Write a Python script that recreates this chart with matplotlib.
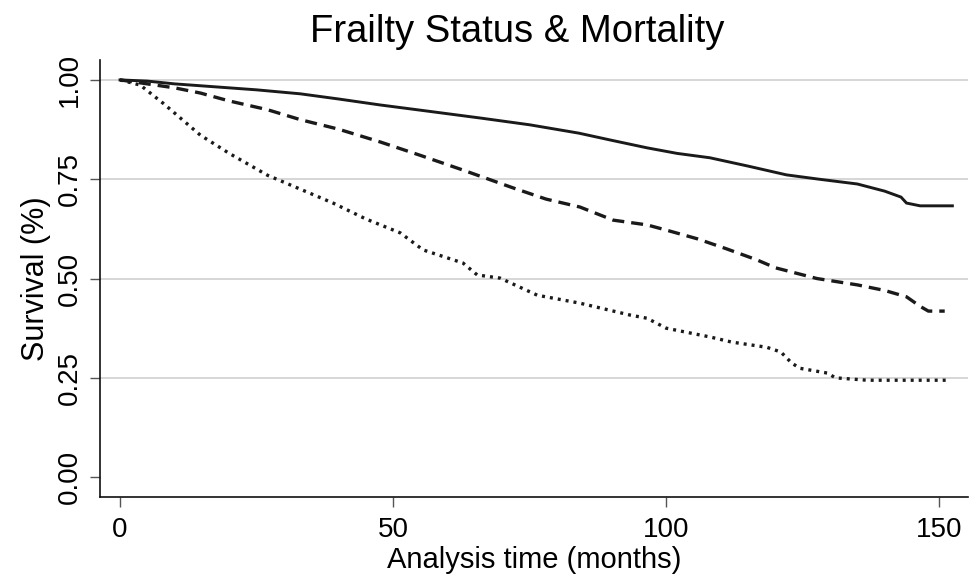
import matplotlib
matplotlib.use("Agg")
import matplotlib.pyplot as plt

plt.rcParams['font.family'] = ['Liberation Sans', 'DejaVu Sans']

# Kaplan-Meier survival estimates by frailty status (months, survival)
robust_t = [0, 5, 10, 15, 25, 33, 40, 47.6, 56, 66, 75, 84, 90, 96.5, 102, 108,
            115, 122, 128, 135, 140, 143, 144, 146.5, 152.4]
robust_s = [1.0, 0.997, 0.99, 0.985, 0.975, 0.965, 0.952, 0.937, 0.922, 0.904,
            0.887, 0.866, 0.848, 0.829, 0.815, 0.804, 0.783, 0.761, 0.75, 0.738,
            0.72, 0.705, 0.69, 0.683, 0.683]

prefrail_t = [0, 5, 10, 14.7, 20, 27, 33, 40, 47.6, 55, 62.8, 72, 78, 84.2, 90.3,
              96.5, 100, 105.7, 111, 116.6, 120, 127.6, 135, 140, 144, 146.5, 148, 151]
prefrail_s = [1.0, 0.99, 0.98, 0.967, 0.947, 0.925, 0.90, 0.876, 0.844, 0.81,
              0.773, 0.728, 0.70, 0.68, 0.647, 0.635, 0.622, 0.60, 0.575, 0.547,
              0.527, 0.50, 0.484, 0.47, 0.454, 0.43, 0.418, 0.418]

frail_t = [0, 3.7, 8, 14.7, 20, 27, 33, 39, 45, 51.3, 55.5, 62.8, 65.4, 69.6, 76.4,
           84.2, 93.4, 96.5, 100, 108, 112, 118.4, 121, 123, 124.5, 129.5, 131,
           136.8, 151.6]
frail_s = [1.0, 0.987, 0.94, 0.861, 0.815, 0.76, 0.725, 0.69, 0.65, 0.615, 0.572,
           0.539, 0.509, 0.501, 0.458, 0.438, 0.408, 0.40, 0.375, 0.353, 0.34,
           0.327, 0.315, 0.287, 0.274, 0.262, 0.25, 0.244, 0.244]

x_ticks = [0, 50, 100, 150]
y_ticks = [0.0, 0.25, 0.5, 0.75, 1.0]
y_tick_labels = ['0.00', '0.25', '0.50', '0.75', '1.00']

fig = plt.figure(figsize=(9.77, 5.83), dpi=100)
ax = fig.add_axes([0.1024, 0.1475, 0.8886, 0.7495])

ink = '#1a1a1a'
ax.plot(robust_t, robust_s, color=ink, lw=2.1, solid_joinstyle='miter')
ax.plot(prefrail_t, prefrail_s, color=ink, lw=2.4, linestyle=(0, (3.6, 2.1)))
ax.plot(frail_t, frail_s, color=ink, lw=2.4, linestyle=(0, (0.9, 1.5)))

ax.set_xlim(-3.66, 155.3)
ax.set_ylim(-0.05, 1.05)

ax.set_xticks(x_ticks)
ax.set_yticks(y_ticks)
ax.set_yticklabels(y_tick_labels, rotation=90, va='center', ha='right')

ax.tick_params(axis='both', direction='out', length=7.5, width=1.0,
               color='#555555', labelsize=20)
ax.tick_params(axis='x', pad=7)
ax.tick_params(axis='y', pad=5)

ax.grid(True, axis='y', color='#d6d6d6', lw=1.4)
ax.yaxis.get_gridlines()[0].set_visible(False)
ax.set_axisbelow(True)

for side in ['top', 'right']:
    ax.spines[side].set_visible(False)
for side in ['left', 'bottom']:
    ax.spines[side].set_color('#111111')
    ax.spines[side].set_linewidth(1.2)

ax.set_xlabel('Analysis time (months)', fontsize=21, labelpad=2)
ax.set_ylabel('Survival (%)', fontsize=22, labelpad=4)

fig.text(0.5297, 0.928, 'Frailty Status & Mortality', fontsize=27.5,
         ha='center', va='baseline')

fig.savefig('out.png', dpi=100, facecolor='white')
